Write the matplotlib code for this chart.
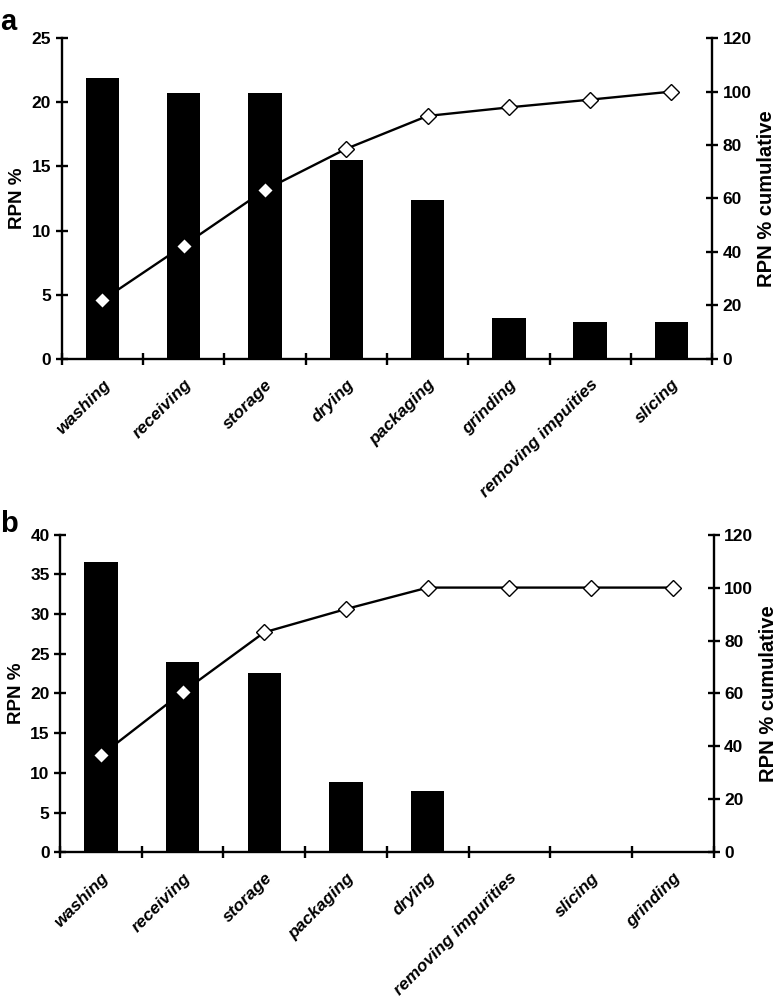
import numpy as np
import matplotlib
matplotlib.use("Agg")
import matplotlib.pyplot as plt

plt.rcParams["font.family"] = ["Liberation Sans", "DejaVu Sans"]
plt.rcParams["font.weight"] = "bold"

# panel a
steps_a = ["washing", "receiving", "storage", "drying", "packaging", "grinding",
           "removing impuities", "slicing"]
rpn_a = [21.9, 20.7, 20.7, 15.5, 12.4, 3.2, 2.9, 2.9]
cum_a = [21.9, 42.4, 63.2, 78.6, 90.9, 94.1, 97.0, 100.0]

# panel b
steps_b = ["washing", "receiving", "storage", "packaging", "drying",
           "removing impurities", "slicing", "grinding"]
rpn_b = [36.6, 23.9, 22.6, 8.8, 7.7, 0, 0, 0]
cum_b = [36.6, 60.5, 83.1, 91.9, 100.0, 100.0, 100.0, 100.0]

LW = 1.7
TICK_FS = 12.5


def draw_panel(ax, steps, rpn, cum, ymax, ystep):
    x = np.arange(len(steps))
    ax.bar(x, rpn, width=0.41, color="black", zorder=2)
    ax.set_xlim(-0.5, len(steps) - 0.5)
    ax.set_ylim(0, ymax)
    ax.set_yticks(np.arange(0, ymax + 0.1, ystep))

    ax.set_xticks(np.arange(-0.5, len(steps), 1))
    ax.set_xticklabels([])
    ax.set_xticks(x, minor=True)
    ax.set_xticklabels(steps, minor=True, rotation=45, ha="right", va="top",
                       rotation_mode="anchor", fontsize=TICK_FS,
                       fontstyle="italic", fontweight="bold")
    ax.tick_params(axis="x", which="major", direction="inout", length=9, width=LW)
    ax.tick_params(axis="x", which="minor", length=0, pad=13)
    ax.tick_params(axis="y", direction="inout", length=9, width=LW,
                   labelsize=TICK_FS, pad=3)
    for lab in ax.get_yticklabels():
        lab.set_fontweight("bold")
    ax.spines["top"].set_visible(False)
    ax.spines["right"].set_visible(False)
    ax.spines["left"].set_linewidth(LW)
    ax.spines["bottom"].set_linewidth(LW)
    ax.set_ylabel("RPN %", fontsize=13.5, fontweight="bold", labelpad=4)

    ax2 = ax.twinx()
    ax2.plot(x, cum, color="black", linewidth=LW, marker="D", markersize=8.5,
             markerfacecolor="white", markeredgecolor="black",
             markeredgewidth=1.0, zorder=3)
    ax2.set_ylim(0, 120)
    ax2.set_yticks(np.arange(0, 121, 20))
    ax2.tick_params(axis="y", direction="inout", length=9, width=LW,
                    labelsize=TICK_FS, pad=3)
    for lab in ax2.get_yticklabels():
        lab.set_fontweight("bold")
    for side in ["top", "left", "bottom"]:
        ax2.spines[side].set_visible(False)
    ax2.spines["right"].set_linewidth(LW)
    ax2.set_ylabel("RPN % cumulative", fontsize=14.5, fontweight="bold", labelpad=4)
    return ax2


fig = plt.figure(figsize=(7.8, 10.05), dpi=100)
ax_a = fig.add_axes([0.079, 0.643, 0.834, 0.319])
ax_b = fig.add_axes([0.077, 0.152, 0.838, 0.316])

draw_panel(ax_a, steps_a, rpn_a, cum_a, 25, 5)
draw_panel(ax_b, steps_b, rpn_b, cum_b, 40, 5)

fig.text(0.0, 0.970, "a", fontsize=21, fontweight="bold", ha="left", va="baseline")
fig.text(0.0, 0.4706, "b", fontsize=21, fontweight="bold", ha="left", va="baseline")

fig.savefig("out.png", dpi=100)
